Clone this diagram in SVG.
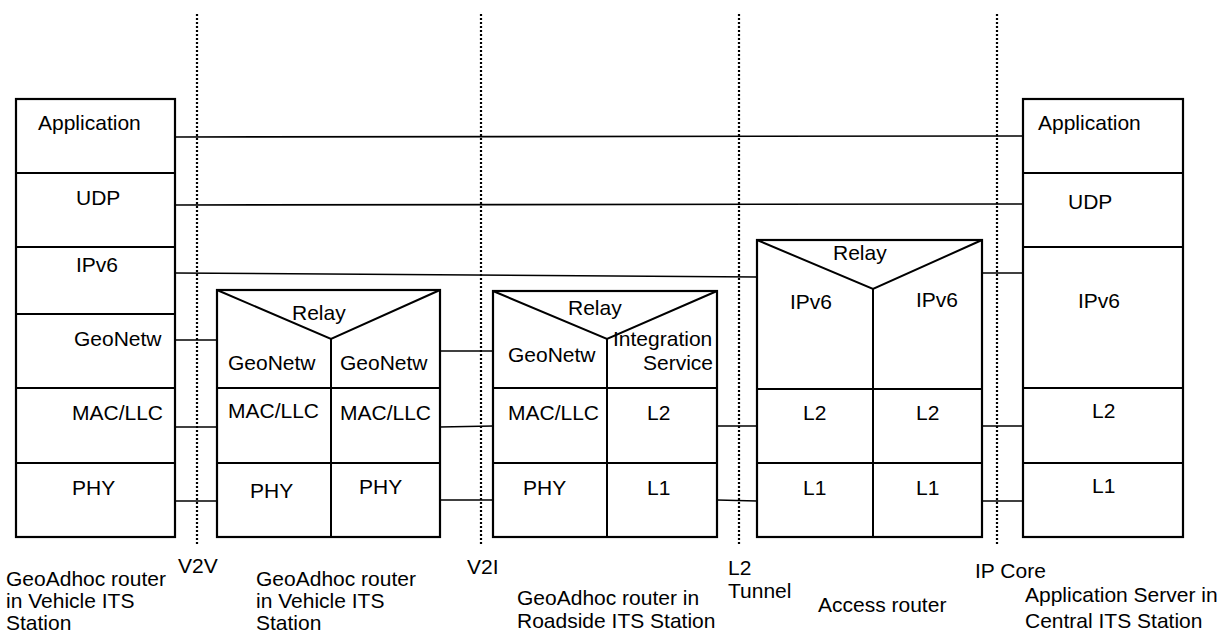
<svg xmlns="http://www.w3.org/2000/svg" width="1220" height="635" viewBox="0 0 1220 635">
<style>
text{font-family:"Liberation Sans",Arial,sans-serif;font-size:21px;fill:#000}
.box{fill:#fff;stroke:#000;stroke-width:2.2}
.ln{fill:none;stroke:#000;stroke-width:2}
.cn{fill:none;stroke:#000;stroke-width:1.6}
.dot{fill:none;stroke:#000;stroke-width:2.2;stroke-dasharray:2 2}
</style>
<rect width="1220" height="635" fill="#fff"/>
<g id="boundaries">
<line class="dot" x1="197" y1="14" x2="197" y2="546"/>
<line class="dot" x1="481" y1="14" x2="481" y2="546"/>
<line class="dot" x1="739" y1="14" x2="739" y2="546"/>
<line class="dot" x1="997" y1="14" x2="997" y2="546"/>
</g>
<g id="connectors">
<line class="cn" x1="175" y1="137" x2="1023" y2="136"/>
<line class="cn" x1="175" y1="205" x2="1023" y2="204"/>
<line class="cn" x1="175" y1="273" x2="757" y2="277"/>
<line class="cn" x1="982" y1="273" x2="1023" y2="273"/>
<line class="cn" x1="175" y1="340" x2="217" y2="340"/>
<line class="cn" x1="175" y1="427" x2="217" y2="427"/>
<line class="cn" x1="175" y1="501" x2="217" y2="501"/>
<line class="cn" x1="440" y1="351" x2="493" y2="351"/>
<line class="cn" x1="440" y1="427" x2="493" y2="426"/>
<line class="cn" x1="440" y1="500" x2="493" y2="500"/>
<line class="cn" x1="717" y1="426" x2="757" y2="426"/>
<line class="cn" x1="717" y1="500" x2="757" y2="501"/>
<line class="cn" x1="982" y1="426" x2="1023" y2="426"/>
<line class="cn" x1="982" y1="501" x2="1023" y2="501"/>
</g>
<g id="vehicle-its-station">
<rect class="box" x="16" y="99" width="159" height="438"/>
<line class="ln" x1="16" y1="173" x2="175" y2="173"/>
<line class="ln" x1="16" y1="247" x2="175" y2="247"/>
<line class="ln" x1="16" y1="314" x2="175" y2="314"/>
<line class="ln" x1="16" y1="388" x2="175" y2="388"/>
<line class="ln" x1="16" y1="463" x2="175" y2="463"/>
<text x="38" y="130">Application</text>
<text x="76" y="205">UDP</text>
<text x="76" y="272">IPv6</text>
<text x="74" y="346">GeoNetw</text>
<text x="72" y="420">MAC/LLC</text>
<text x="72" y="495">PHY</text>
<text x="6" y="586">GeoAdhoc router</text>
<text x="6" y="608">in Vehicle ITS</text>
<text x="6" y="630">Station</text>
</g>
<g id="vehicle-router">
<rect class="box" x="217" y="290" width="223" height="247"/>
<polyline class="ln" points="217,290 331,339 440,290"/>
<line class="ln" x1="331" y1="339" x2="331" y2="537"/>
<line class="ln" x1="217" y1="388" x2="440" y2="388"/>
<line class="ln" x1="217" y1="463" x2="440" y2="463"/>
<text x="292" y="320">Relay</text>
<text x="228" y="370">GeoNetw</text>
<text x="340" y="370">GeoNetw</text>
<text x="228" y="418">MAC/LLC</text>
<text x="340" y="420">MAC/LLC</text>
<text x="250" y="498">PHY</text>
<text x="359" y="494">PHY</text>
<text x="256" y="586">GeoAdhoc router</text>
<text x="256" y="608">in Vehicle ITS</text>
<text x="256" y="630">Station</text>
</g>
<g id="roadside-router">
<rect class="box" x="493" y="291" width="224" height="246"/>
<polyline class="ln" points="493,291 607,339 717,291"/>
<line class="ln" x1="607" y1="339" x2="607" y2="537"/>
<line class="ln" x1="493" y1="388" x2="717" y2="388"/>
<line class="ln" x1="493" y1="463" x2="717" y2="463"/>
<text x="568" y="315">Relay</text>
<text x="508" y="362">GeoNetw</text>
<text x="613" y="346">Integration</text>
<text x="643" y="370">Service</text>
<text x="508" y="420">MAC/LLC</text>
<text x="647" y="420">L2</text>
<text x="523" y="495">PHY</text>
<text x="647" y="495">L1</text>
<text x="517" y="605">GeoAdhoc router in</text>
<text x="517" y="628">Roadside ITS Station</text>
</g>
<g id="access-router">
<rect class="box" x="757" y="240" width="225" height="297"/>
<polyline class="ln" points="757,240 873,289 982,240"/>
<line class="ln" x1="873" y1="289" x2="873" y2="537"/>
<line class="ln" x1="757" y1="389" x2="982" y2="389"/>
<line class="ln" x1="757" y1="463" x2="982" y2="463"/>
<text x="833" y="260">Relay</text>
<text x="790" y="309">IPv6</text>
<text x="916" y="307">IPv6</text>
<text x="803" y="420">L2</text>
<text x="916" y="420">L2</text>
<text x="803" y="495">L1</text>
<text x="916" y="495">L1</text>
<text x="818" y="612">Access router</text>
</g>
<g id="central-its-station">
<rect class="box" x="1023" y="99" width="160" height="438"/>
<line class="ln" x1="1023" y1="173" x2="1183" y2="173"/>
<line class="ln" x1="1023" y1="247" x2="1183" y2="247"/>
<line class="ln" x1="1023" y1="388" x2="1183" y2="388"/>
<line class="ln" x1="1023" y1="463" x2="1183" y2="463"/>
<text x="1038" y="130">Application</text>
<text x="1068" y="209">UDP</text>
<text x="1078" y="308">IPv6</text>
<text x="1092" y="418">L2</text>
<text x="1092" y="493">L1</text>
<text x="1025" y="602">Application Server in</text>
<text x="1025" y="628">Central ITS Station</text>
</g>
<g id="boundary-labels">
<text x="178" y="573">V2V</text>
<text x="467" y="574">V2I</text>
<text x="728" y="575">L2</text>
<text x="728" y="598">Tunnel</text>
<text x="975" y="578">IP Core</text>
</g>
</svg>
